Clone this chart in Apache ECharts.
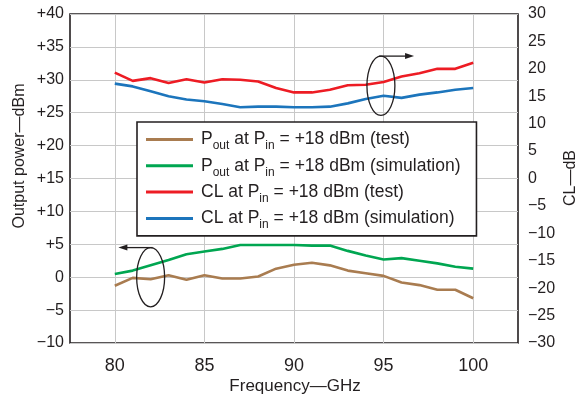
<!DOCTYPE html>
<html>
<head>
<meta charset="utf-8">
<script src="https://cdn.jsdelivr.net/npm/echarts@6.0.0/dist/echarts.min.js"></script>
<style>
  html, body { margin: 0; padding: 0; background: #fff; }
  #chart { width: 579px; height: 397px; }
</style>
</head>
<body>
<div id="chart"></div>
<script>
// values
const freqs = [80, 81, 82, 83, 84, 85, 86, 87, 88, 89, 90, 91, 92, 93, 94, 95, 96, 97, 98, 99, 100];
const poutTest = [-1.3, -0.1, -0.3, 0.3, -0.4, 0.3, -0.2, -0.2, 0.1, 1.3, 1.9, 2.2, 1.8, 1.0, 0.6, 0.2, -0.8, -1.2, -1.9, -1.9, -3.2];
const poutSim = [0.5, 1.0, 1.8, 2.6, 3.5, 3.9, 4.3, 4.9, 4.9, 4.9, 4.9, 4.8, 4.8, 4.0, 3.3, 2.7, 2.9, 2.5, 2.1, 1.6, 1.3];
const clTest = [19.3, 17.8, 18.3, 17.4, 18.1, 17.5, 18.1, 18.0, 17.7, 16.5, 15.7, 15.7, 16.2, 17.0, 17.1, 17.6, 18.6, 19.2, 20.0, 20.0, 21.1];
const clSim = [17.3, 16.8, 15.9, 15.0, 14.4, 14.1, 13.6, 13.0, 13.1, 13.1, 13.0, 13.0, 13.1, 13.7, 14.5, 15.1, 14.7, 15.3, 15.7, 16.2, 16.5];

const xTicks = [80, 85, 90, 95, 100];
const seriesNames = [
  'Pout at Pin = +18 dBm (test)',
  'Pout at Pin = +18 dBm (simulation)',
  'CL at Pin = +18 dBm (test)',
  'CL at Pin = +18 dBm (simulation)'
];
const legendLabels = {
  'Pout at Pin = +18 dBm (test)': 'P{s|out} at P{s|in} = +18 dBm (test)',
  'Pout at Pin = +18 dBm (simulation)': 'P{s|out} at P{s|in} = +18 dBm (simulation)',
  'CL at Pin = +18 dBm (test)': 'CL at P{s|in} = +18 dBm (test)',
  'CL at Pin = +18 dBm (simulation)': 'CL at P{s|in} = +18 dBm (simulation)'
};
const colors = ['#a97c50', '#00a651', '#ed1c24', '#1c75bc'];

const INK = '#231f20';
const FONT = 'Liberation Sans';
const minus = v => String(v).replace('-', '\u2212');

const pair = arr => freqs.map((f, i) => [f, arr[i]]);

const chart = echarts.init(document.getElementById('chart'), null, { renderer: 'canvas' });

function line(name, data, color, yIdx) {
  return {
    name, type: 'line', data: pair(data), yAxisIndex: yIdx,
    symbol: 'none', smooth: false, animation: false,
    lineStyle: { color, width: 2.6 }, itemStyle: { color }
  };
}

chart.setOption({
  animation: false,
  textStyle: { fontFamily: FONT, color: INK },
  grid: {
    left: 70, right: 61, top: 14, bottom: 54,
    show: true, borderColor: INK, borderWidth: 1.6, backgroundColor: 'transparent'
  },
  legend: {
    orient: 'vertical',
    left: 137, top: 122,
    data: seriesNames,
    icon: 'rect', itemWidth: 47, itemHeight: 3, itemGap: 1.3,
    padding: [5, 16, 5, 9],
    backgroundColor: '#fff', borderColor: INK, borderWidth: 1.6,
    formatter: name => legendLabels[name],
    textStyle: {
      fontFamily: FONT, fontSize: 17.5, color: INK, lineHeight: 20, padding: [0, 0, 0, 3],
      rich: { s: { fontSize: 12, lineHeight: 20, padding: [13, 0, 0, 0], fontFamily: FONT, color: INK } }
    }
  },
  xAxis: {
    type: 'value', min: 77.5, max: 102.5,
    axisLine: { show: false },
    axisTick: { show: false, customValues: xTicks },
    axisLabel: { customValues: xTicks, fontSize: 18, color: INK, margin: 14, fontFamily: FONT },
    splitLine: { show: true, lineStyle: { color: '#c8c8c8', width: 1 } }
  },
  yAxis: [
    {
      type: 'value', min: -10, max: 40, interval: 5,
      axisLine: { show: false }, axisTick: { show: false },
      axisLabel: { fontSize: 16, color: INK, margin: 6, fontFamily: FONT,
        formatter: v => v > 0 ? '+' + v : minus(v) },
      splitLine: { show: true, lineStyle: { color: '#c8c8c8', width: 1 } }
    },
    {
      type: 'value', min: -30, max: 30, interval: 5, position: 'right',
      axisLine: { show: false }, axisTick: { show: false },
      axisLabel: { fontSize: 16, color: INK, margin: 10, fontFamily: FONT, formatter: v => minus(v) },
      splitLine: { show: false }
    }
  ],
  series: [
    line(seriesNames[0], poutTest, colors[0], 0),
    line(seriesNames[1], poutSim, colors[1], 0),
    line(seriesNames[2], clTest, colors[2], 1),
    line(seriesNames[3], clSim, colors[3], 1)
  ]
});

// annotation ellipses with arrows, anchored in data coordinates
const rightGroup = { center: [94.85, 29.1], r: [0.78, 4.5], arrowTo: 96.7, dir: 1 };
const leftGroup = { center: [82.0, 0.0], r: [0.78, 4.5], arrowTo: 80.2, dir: -1 };

function annotation(g) {
  const c = chart.convertToPixel({ xAxisIndex: 0, yAxisIndex: 0 }, g.center);
  const e = chart.convertToPixel({ xAxisIndex: 0, yAxisIndex: 0 }, [g.center[0] + g.r[0], g.center[1] + g.r[1]]);
  const rx = e[0] - c[0], ry = c[1] - e[1];
  const top = c[1] - ry;
  const tip = chart.convertToPixel({ xAxisIndex: 0, yAxisIndex: 0 }, [g.arrowTo, 0])[0];
  const x0 = c[0] - g.dir * 2;
  return [
    { type: 'ellipse', shape: { cx: c[0], cy: c[1], rx, ry }, style: { fill: null, stroke: INK, lineWidth: 1.3 }, z: 10 },
    { type: 'line', shape: { x1: x0, y1: top, x2: tip - g.dir * 6, y2: top }, style: { stroke: INK, lineWidth: 1.3 }, z: 10 },
    { type: 'polygon', shape: { points: [[tip, top], [tip - g.dir * 9, top - 3], [tip - g.dir * 9, top + 3]] }, style: { fill: INK }, z: 10 }
  ];
}

chart.setOption({
  graphic: [
    ...annotation(rightGroup),
    ...annotation(leftGroup),
    { type: 'text', x: 20, y: 156, rotation: Math.PI / 2,
      style: { text: 'Output power\u2014dBm', fontSize: 16, fontFamily: FONT, fill: INK, align: 'center', verticalAlign: 'middle' } },
    { type: 'text', x: 571, y: 178, rotation: Math.PI / 2,
      style: { text: 'CL\u2014dB', fontSize: 16, fontFamily: FONT, fill: INK, align: 'center', verticalAlign: 'middle' } },
    { type: 'text', x: 295, y: 386,
      style: { text: 'Frequency\u2014GHz', fontSize: 17, fontFamily: FONT, fill: INK, align: 'center', verticalAlign: 'middle' } }
  ]
});
</script>
</body>
</html>
